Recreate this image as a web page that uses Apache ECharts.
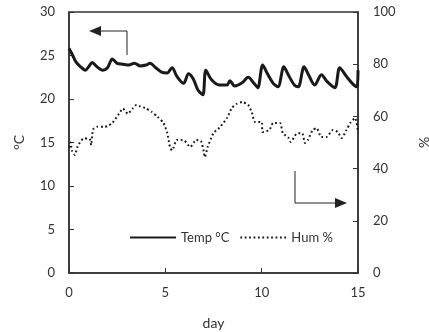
<!DOCTYPE html>
<html>
<head>
<meta charset="utf-8">
<script src="https://cdn.jsdelivr.net/npm/echarts@6/dist/echarts.min.js"></script>
<style>
  html, body { margin: 0; padding: 0; background: #fff; }
  #chart { width: 429px; height: 332px; }
</style>
</head>
<body>
<div id="chart"></div>
<script>
// temperature (left axis, °C)
var tempDay = [0, 0.15, 0.35, 0.6, 0.85, 1.05, 1.2, 1.45, 1.75, 2.0, 2.25, 2.5, 2.8, 3.1, 3.4, 3.7, 4.0, 4.2, 4.5, 4.8,
  5.1, 5.35, 5.6, 5.95, 6.2, 6.45, 6.7, 6.95, 7.1, 7.4, 7.8, 8.2, 8.35, 8.6, 9.0, 9.3, 9.6, 9.8, 10.05, 10.3,
  10.6, 10.85, 11.15, 11.4, 11.7, 11.9, 12.2, 12.45, 12.75, 13.1, 13.4, 13.8, 14.05, 14.4, 14.7, 14.95, 15.0];
var tempVal = [25.8, 25.2, 24.3, 23.7, 23.3, 23.8, 24.2, 23.7, 23.3, 23.6, 24.6, 24.1, 24.0, 23.9, 24.1, 23.8, 23.9, 24.1, 23.6, 23.1,
  23.0, 23.6, 22.6, 21.8, 22.9, 22.3, 21.0, 20.5, 23.3, 22.2, 21.6, 21.6, 22.1, 21.5, 21.9, 22.5, 21.8, 21.3, 23.9, 22.9,
  21.8, 21.4, 23.7, 22.7, 21.6, 21.4, 23.7, 22.7, 21.6, 22.8, 22.0, 21.3, 23.6, 22.6, 21.8, 21.4, 23.3];

// humidity (right axis, %)
var humDay = [0, 0.08, 0.15, 0.3, 0.45, 0.75, 1.0, 1.1, 1.15, 1.25, 1.45, 1.8, 2.0, 2.25, 2.55, 2.8, 3.05, 3.3, 3.5, 3.7,
  3.95, 4.3, 4.6, 4.9, 5.1, 5.25, 5.35, 5.6, 5.8, 6.0, 6.3, 6.6, 6.85, 7.0, 7.05, 7.2, 7.5, 7.85, 8.2, 8.45,
  8.7, 9.0, 9.3, 9.5, 9.65, 10.0, 10.05, 10.4, 10.6, 10.95, 11.1, 11.4, 11.5, 11.8, 12.1, 12.25, 12.4, 12.65, 12.85, 13.1,
  13.35, 13.7, 13.95, 14.15, 14.4, 14.6, 14.85, 15.0];
var humVal = [48, 50, 47, 45.2, 48.5, 51.5, 51.5, 51, 49, 55, 56, 56, 56.3, 57.5, 60.5, 63, 61, 63, 64.4, 63.8,
  63.2, 61.7, 59.8, 57.5, 53.6, 48, 47, 51, 51, 50.6, 48.3, 51, 50.5, 46.4, 44.4, 48.3, 53.6, 56, 59.4, 63.2,
  64.8, 65.5, 64.4, 61.3, 57.9, 57.9, 54, 54.8, 57.5, 57.5, 53.6, 51.7, 50.2, 53.3, 53.6, 49.8, 51, 54.8, 55.5, 52.1,
  52.1, 54.8, 54, 51.7, 54.8, 57.5, 59.4, 54];

function pairs(xs, ys) {
  var out = [];
  for (var i = 0; i < xs.length; i++) out.push([xs[i], ys[i]]);
  return out;
}

var font = 'Lato, "Open Sans", sans-serif';
var axisColor = '#333';
var textColor = '#333';

var myChart = echarts.init(document.getElementById('chart'));
var option = {
  animation: false,
  backgroundColor: '#fff',
  textStyle: { fontFamily: font },
  grid: {
    left: 69, right: 71, top: 12, bottom: 59,
    outerBoundsMode: 'none',
    show: true, borderColor: axisColor, borderWidth: 1.5
  },
  legend: {
    left: 124, top: 226,
    itemWidth: 46, itemHeight: 14, itemGap: 10,
    itemStyle: { opacity: 0 },
    textStyle: { color: textColor, fontSize: 13, fontFamily: font },
    data: ['Temp °C', 'Hum %']
  },
  xAxis: {
    type: 'value', min: 0, max: 15, interval: 5,
    name: 'day', nameLocation: 'middle', nameGap: 43,
    nameTextStyle: { color: textColor, fontSize: 14, fontFamily: font },
    axisLine: { lineStyle: { color: axisColor, width: 1.5 } },
    axisTick: { inside: true, length: 5, lineStyle: { color: axisColor } },
    axisLabel: { color: textColor, fontSize: 13, margin: 13 },
    splitLine: { show: false }
  },
  yAxis: [{
    type: 'value', min: 0, max: 30, interval: 5,
    name: '°C', nameLocation: 'middle', nameGap: 43, nameRotate: 90,
    nameTextStyle: { color: textColor, fontSize: 14, fontFamily: font },
    axisLine: { show: true, lineStyle: { color: axisColor, width: 1.5 } },
    axisTick: { show: true, inside: true, length: 5, lineStyle: { color: axisColor } },
    axisLabel: { color: textColor, fontSize: 13, margin: 14 },
    splitLine: { show: false }
  }, {
    type: 'value', min: 0, max: 100, interval: 20, position: 'right',
    name: '%', nameLocation: 'middle', nameGap: 59, nameRotate: 90,
    nameTextStyle: { color: textColor, fontSize: 14, fontFamily: font },
    axisLine: { show: true, lineStyle: { color: axisColor, width: 1.5 } },
    axisTick: { show: true, inside: true, length: 5, lineStyle: { color: axisColor } },
    axisLabel: { color: textColor, fontSize: 13, margin: 15 },
    splitLine: { show: false }
  }],
  series: [{
    name: 'Temp °C',
    type: 'line',
    yAxisIndex: 0,
    symbol: 'none',
    smooth: 0.3,
    lineStyle: { color: '#1a1a1a', width: 3 },
    itemStyle: { color: '#1a1a1a' },
    data: pairs(tempDay, tempVal)
  }, {
    name: 'Hum %',
    type: 'line',
    yAxisIndex: 1,
    symbol: 'none',
    smooth: 0.2,
    lineStyle: { color: '#1a1a1a', width: 2, type: [1.8, 2.6] },
    itemStyle: { color: '#1a1a1a' },
    data: pairs(humDay, humVal)
  }],
  graphic: [
    // arrow pointing to the left axis
    { type: 'polyline', shape: { points: [[127, 55], [127, 31], [100, 31]] },
      style: { stroke: '#222', lineWidth: 1, fill: null } },
    { type: 'polygon', shape: { points: [[89, 31], [101, 26], [101, 36]] },
      style: { fill: '#222' } },
    // arrow pointing to the right axis
    { type: 'polyline', shape: { points: [[295, 171], [295, 203], [335, 203]] },
      style: { stroke: '#222', lineWidth: 1, fill: null } },
    { type: 'polygon', shape: { points: [[347, 203], [335, 198], [335, 208]] },
      style: { fill: '#222' } }
  ]
};
myChart.setOption(option);
</script>
</body>
</html>
